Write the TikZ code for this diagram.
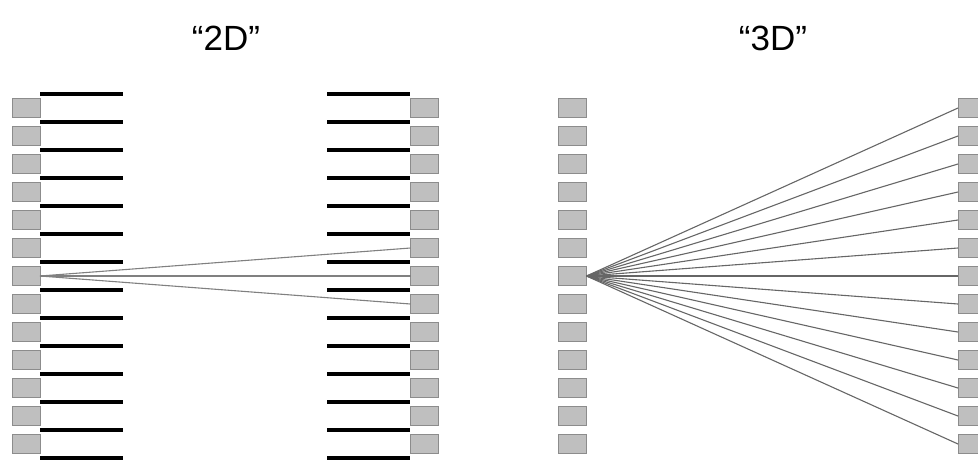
\documentclass[tikz,border=0pt]{standalone}
\usepackage{fontspec}
\setmainfont{Liberation Sans}
\begin{document}
\begin{tikzpicture}[x=1pt,y=-1pt,
  cell/.style={draw=black!45,fill=gray!50,line width=1pt,minimum width=28pt,minimum height=19pt,inner sep=0pt,outer sep=0pt},
  bar/.style={line width=3.5pt,black},
  link/.style={draw=black!50,line width=1.1pt},
  fan/.style={draw=black!60,line width=1.1pt},
  title/.style={font=\fontsize{35}{40}\selectfont,inner sep=0pt}]
\useasboundingbox (0,0) rectangle (978,459);
\clip (0,0) rectangle (978,459);
\node[title] (t2) at (226,38) {“2D”};
\node[title] (t3) at (773,38) {“3D”};
\foreach \k in {1,...,13}{
  \pgfmathsetmacro{\yy}{80+28*\k}
  \node[cell] (L\k) at (26,\yy) {};
  \node[cell] (R\k) at (424.5,\yy) {};
  \node[cell] (A\k) at (572.5,\yy) {};
  \node[cell] (B\k) at (972,\yy) {};
}
\foreach \k in {0,...,13}{
  \pgfmathsetmacro{\yb}{94+28*\k}
  \draw[bar] (40,\yb) -- (123,\yb);
  \draw[bar] (327,\yb) -- (410,\yb);
}
\foreach \k in {6,7,8}{
  \draw[link] (L7.east) -- (R\k.west);
}
\foreach \k in {1,...,13}{
  \draw[fan] (A7.east) -- (B\k.west);
}
\end{tikzpicture}
\end{document}
